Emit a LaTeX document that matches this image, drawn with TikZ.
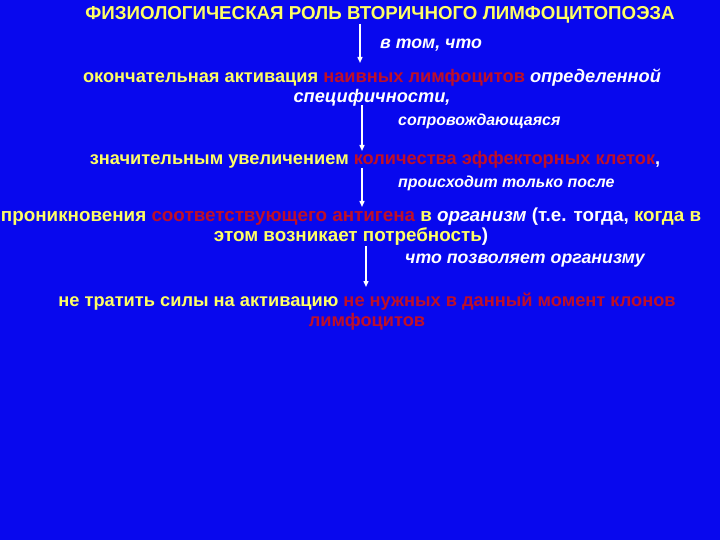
\documentclass[tikz,border=0pt]{standalone}
\usepackage{fontspec}
\setmainfont{Liberation Sans}
\usetikzlibrary{arrows.meta}
\definecolor{bg}{RGB}{8,8,238}
\definecolor{yel}{RGB}{255,255,100}
\definecolor{rd}{RGB}{190,15,40}
\tikzset{
  ttl/.style={text=yel,font=\fontsize{18.8}{20}\selectfont\bfseries,inner sep=0pt},
  body/.style={text=yel,font=\fontsize{18.3}{20}\selectfont\bfseries,inner sep=0pt,align=center},
  bodyw/.style={body,font=\fontsize{18.9}{20}\selectfont\bfseries},
  lbl/.style={text=white,font=\fontsize{16}{18}\selectfont\bfseries\itshape,inner sep=0pt,anchor=west},
  lblb/.style={lbl,font=\fontsize{17.8}{18}\selectfont\bfseries\itshape},
  arr/.style={draw=white,line width=1.4bp,-{Triangle[length=6bp,width=5bp]}}
}
\begin{document}
\begin{tikzpicture}[x=1bp,y=-1bp]
\fill[bg] (0,0) rectangle (720,540);
\useasboundingbox (0,0) rectangle (720,540);
\node[ttl] (t) at (380,15) {ФИЗИОЛОГИЧЕСКАЯ РОЛЬ ВТОРИЧНОГО ЛИМФОЦИТОПОЭЗА};
\node[lblb] (l1) at (380,45) {в том, что};
\node[body] (b1) at (372,88) {окончательная активация \textcolor{rd}{наивных лимфоцитов} \textcolor{white}{\itshape определенной}\\\textcolor{white}{\itshape специфичности,}};
\node[lbl] (l2) at (398,121) {сопровождающаяся};
\node[body] (b2) at (375,160) {значительным увеличением \textcolor{rd}{количества эффекторных клеток}\textcolor{white}{,}};
\node[lbl] (l3) at (398,183) {происходит только после};
\node[bodyw] (b3) at (351,227) {проникновения \textcolor{rd}{соответствующего антигена} в \textcolor{white}{\itshape организм} \textcolor{white}{(т.е. тогда,} когда в\\этом возникает потребность\textcolor{white}{)}};
\node[lblb] (l4) at (405,261) {что позволяет организму};
\node[body] (b4) at (367,312) {не тратить силы на активацию \textcolor{rd}{не нужных в данный момент клонов}\\\textcolor{rd}{лимфоцитов}};
\coordinate (a1s) at (360,24);
\coordinate (a1e) at (360,63);
\coordinate (a2s) at (362,105);
\coordinate (a2e) at (362,151);
\coordinate (a3s) at (362,168);
\coordinate (a3e) at (362,207);
\coordinate (a4s) at (366,246);
\coordinate (a4e) at (366,287);
\draw[arr] (a1s) -- (a1e);
\draw[arr] (a2s) -- (a2e);
\draw[arr] (a3s) -- (a3e);
\draw[arr] (a4s) -- (a4e);
\end{tikzpicture}
\end{document}
